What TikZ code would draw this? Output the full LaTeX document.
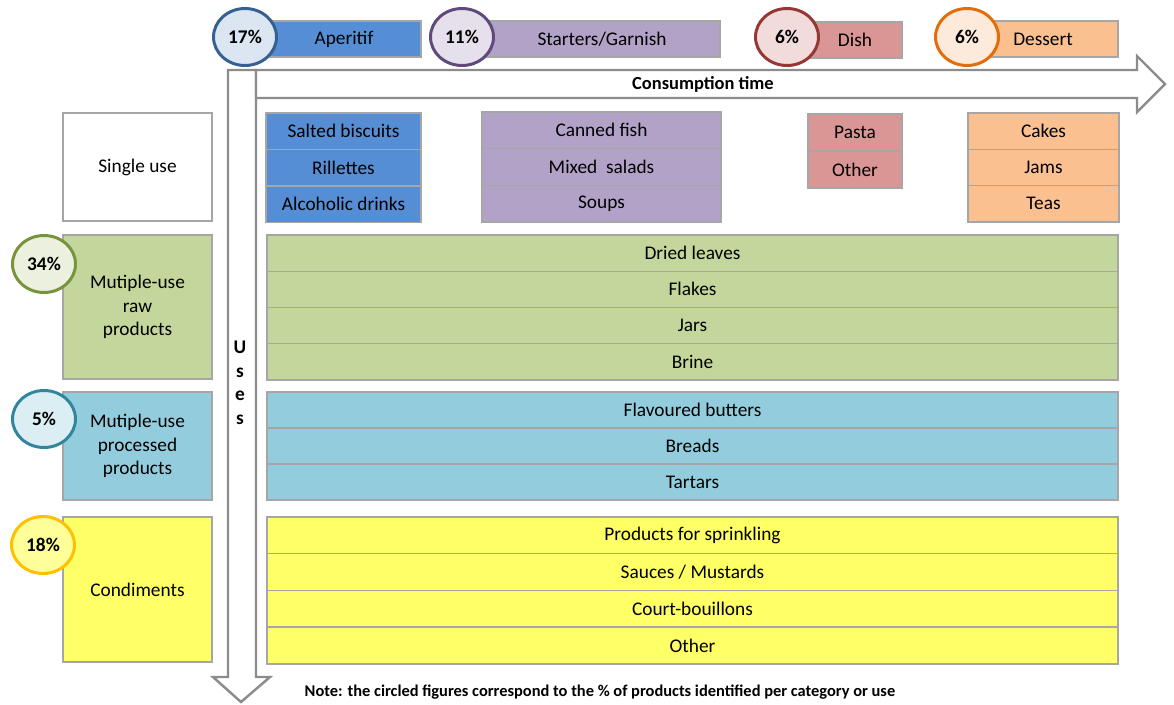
\documentclass[tikz,border=0pt]{standalone}
\usepackage{fontspec}
\setmainfont{Carlito}
\usetikzlibrary{shapes.geometric}

\definecolor{apblue}{HTML}{558ED5}
\definecolor{stpurple}{HTML}{B3A2C7}
\definecolor{dishred}{HTML}{D99694}
\definecolor{desorange}{HTML}{FAC090}
\definecolor{rawgreen}{HTML}{C3D69B}
\definecolor{procblue}{HTML}{93CDDD}
\definecolor{condyellow}{HTML}{FFFF66}
\definecolor{boxgray}{HTML}{A6A6A6}
\definecolor{arrowgray}{HTML}{8C8C8C}
% circle colours
\definecolor{apline}{HTML}{376092}\definecolor{apfill}{HTML}{DCE6F2}
\definecolor{stline}{HTML}{604A7B}\definecolor{stfill}{HTML}{E6E0EC}
\definecolor{diline}{HTML}{953735}\definecolor{difill}{HTML}{F2DCDB}
\definecolor{deline}{HTML}{E46C0A}\definecolor{defill}{HTML}{FDEADA}
\definecolor{rwline}{HTML}{77933C}\definecolor{rwfill}{HTML}{EBF1DE}
\definecolor{prline}{HTML}{31859C}\definecolor{prfill}{HTML}{DBEEF4}
\definecolor{cdline}{HTML}{FFC000}\definecolor{cdfill}{HTML}{FFFF99}

\tikzset{
    cell/.style={draw=boxgray, line width=0.8pt},
    txt/.style={font=\fontsize{11}{13.4}\selectfont, align=center, inner sep=1pt},
    pct/.style={ellipse, draw=#1, line width=1.7pt, minimum width=1.26cm, minimum height=1.14cm, inner sep=0pt, font=\bfseries\fontsize{11}{13}\selectfont},
    bigarrow/.style={draw=arrowgray, line width=1.4pt, fill=white, line join=miter}
}

\begin{document}
\begin{tikzpicture}[x=0.02cm, y=-0.02cm]
    \useasboundingbox (0,0) rectangle (1174,704);

    % axes: uses (down) and consumption time (right)
    \draw[bigarrow] (228,70) -- (256,70) -- (256,677) -- (270,677) -- (241,702) -- (213,677) -- (228,677) -- cycle;
    \draw[bigarrow] (256,70) -- (1137,70) -- (1137,56) -- (1165,84) -- (1137,112) -- (1137,98) -- (256,98) -- cycle;
    \node[font=\bfseries\fontsize{10.5}{12}\selectfont] (time) at (703,84) {Consumption time};
    \node[font=\bfseries\fontsize{11}{13.4}\selectfont, align=center] (uses) at (240,383) {U\\s\\e\\s};

    % categories along the time axis
    \draw[cell, fill=apblue] (250,21) rectangle (421,57);
    \node[txt] (aperitif) at (344,39) {Aperitif};
    \node[pct=apline, fill=apfill] (p17) at (245,37) {17\%};

    \draw[cell, fill=stpurple] (462,21) rectangle (720,57);
    \node[txt] (starters) at (602,39) {Starters/Garnish};
    \node[pct=stline, fill=stfill] (p11) at (462,37) {11\%};

    \draw[cell, fill=dishred] (787,22) rectangle (902,58);
    \node[txt] (dish) at (855,40) {Dish};
    \node[pct=diline, fill=difill] (p6a) at (787,37) {6\%};

    \draw[cell, fill=desorange] (967,21) rectangle (1118,57);
    \node[txt] (dessert) at (1043,39) {Dessert};
    \node[pct=deline, fill=defill] (p6b) at (967,37) {6\%};

    % uses
    \draw[cell, fill=white] (63,113) rectangle (212,221) node[midway, txt] (single) {Single use};
    \draw[cell, fill=rawgreen] (63,235) rectangle (212,379) node[midway, txt] (raw) {Mutiple-use\\raw\\products};
    \draw[cell, fill=procblue] (63,392) rectangle (212,500) node[midway, txt] (proc) {Mutiple-use\\processed\\products};
    \draw[cell, fill=condyellow] (63,517) rectangle (212,662) node[midway, txt] (cond) {Condiments};
    \node[pct=rwline, fill=rwfill] (p34) at (44,264) {34\%};
    \node[pct=prline, fill=prfill] (p5) at (44,419) {5\%};
    \node[pct=cdline, fill=cdfill] (p18) at (43,545) {18\%};

    % single use products
    \foreach \t [count=\i from 0] in {Salted biscuits, Rillettes, Alcoholic drinks}
        \draw[cell, fill=apblue] (266,{113+36.5*\i}) rectangle (421,{149.5+36.5*\i}) node[midway, txt] (ap\i) {\t};
    \foreach \t [count=\i from 0] in {Canned fish, Mixed~ salads, Soups}
        \draw[cell, fill=stpurple] (482,{112+36.7*\i}) rectangle (721,{148.7+36.7*\i}) node[midway, txt] (st\i) {\t};
    \foreach \t [count=\i from 0] in {Pasta, Other}
        \draw[cell, fill=dishred] (808,{114+37*\i}) rectangle (902,{151+37*\i}) node[midway, txt] (di\i) {\t};
    \foreach \t [count=\i from 0] in {Cakes, Jams, Teas}
        \draw[cell, fill=desorange] (968,{113+36.3*\i}) rectangle (1119,{149.3+36.3*\i}) node[midway, txt] (de\i) {\t};

    % multiple-use products
    \foreach \t [count=\i from 0] in {Dried leaves, Flakes, Jars, Brine}
        \draw[cell, fill=rawgreen] (267,{235+36.2*\i}) rectangle (1118,{271.2+36.2*\i}) node[midway, txt] (rw\i) {\t};
    \foreach \t [count=\i from 0] in {Flavoured butters, Breads, Tartars}
        \draw[cell, fill=procblue] (267,{392+36*\i}) rectangle (1118,{428+36*\i}) node[midway, txt] (pr\i) {\t};
    \foreach \t [count=\i from 0] in {Products for sprinkling, Sauces / Mustards, Court-bouillons, Other}
        \draw[cell, fill=condyellow] (267,{517+36.7*\i}) rectangle (1118,{553.7+36.7*\i}) node[midway, txt] (cd\i) {\t};

    \node[font=\bfseries\fontsize{9.35}{11}\selectfont] (note) at (600,692) {Note: the circled figures correspond to the \% of products identified per category or use};
\end{tikzpicture}
\end{document}
